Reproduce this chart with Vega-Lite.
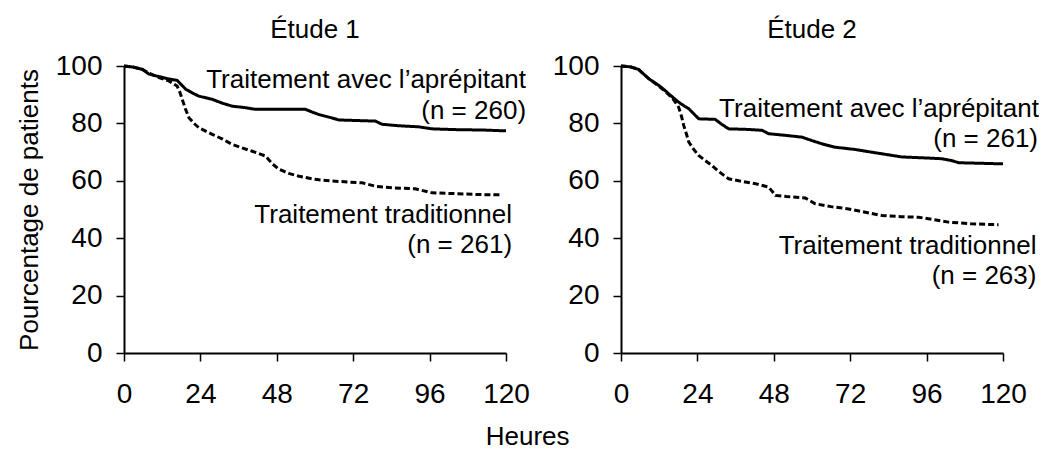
{
  "$schema": "https://vega.github.io/schema/vega-lite/v6.json",
  "background": "white",
  "padding": {"left": 16, "top": 17, "right": 0, "bottom": 0},
  "bounds": "flush",
  "spacing": 115,
  "config": {
    "font": "Liberation Sans",
    "view": {"stroke": null},
    "axis": {
      "grid": false,
      "labelFlush": false,
      "labelOverlap": false,
      "domainColor": "black",
      "domainWidth": 2,
      "tickColor": "black",
      "tickWidth": 1.5,
      "tickSize": 8,
      "labelFont": "Liberation Sans",
      "labelFontSize": 28,
      "labelColor": "black",
      "titleFont": "Liberation Sans",
      "titleFontSize": 26,
      "titleFontWeight": "normal",
      "titleColor": "black"
    },
    "title": {"font": "Liberation Sans", "fontSize": 26, "fontWeight": "normal", "color": "black"}
  },
  "title": {"text": "Heures", "orient": "bottom", "anchor": "middle", "offset": 16},
  "datasets": {
    "curves": [
      {"etude": "Étude 1", "traitement": "aprépitant", "heures": 0, "pct": 100},
      {"etude": "Étude 1", "traitement": "aprépitant", "heures": 3, "pct": 99.6},
      {"etude": "Étude 1", "traitement": "aprépitant", "heures": 5.8, "pct": 98.8},
      {"etude": "Étude 1", "traitement": "aprépitant", "heures": 7.8, "pct": 97.2},
      {"etude": "Étude 1", "traitement": "aprépitant", "heures": 11, "pct": 96.3},
      {"etude": "Étude 1", "traitement": "aprépitant", "heures": 14, "pct": 95.5},
      {"etude": "Étude 1", "traitement": "aprépitant", "heures": 16.7, "pct": 95},
      {"etude": "Étude 1", "traitement": "aprépitant", "heures": 18, "pct": 93.5},
      {"etude": "Étude 1", "traitement": "aprépitant", "heures": 19.4, "pct": 91.9},
      {"etude": "Étude 1", "traitement": "aprépitant", "heures": 21.5, "pct": 90.6},
      {"etude": "Étude 1", "traitement": "aprépitant", "heures": 23.5, "pct": 89.5},
      {"etude": "Étude 1", "traitement": "aprépitant", "heures": 27.7, "pct": 88.4},
      {"etude": "Étude 1", "traitement": "aprépitant", "heures": 31, "pct": 87},
      {"etude": "Étude 1", "traitement": "aprépitant", "heures": 34, "pct": 86},
      {"etude": "Étude 1", "traitement": "aprépitant", "heures": 38, "pct": 85.5},
      {"etude": "Étude 1", "traitement": "aprépitant", "heures": 41.3, "pct": 84.9},
      {"etude": "Étude 1", "traitement": "aprépitant", "heures": 57, "pct": 84.9},
      {"etude": "Étude 1", "traitement": "aprépitant", "heures": 59, "pct": 84},
      {"etude": "Étude 1", "traitement": "aprépitant", "heures": 61.2, "pct": 83.1},
      {"etude": "Étude 1", "traitement": "aprépitant", "heures": 65, "pct": 82},
      {"etude": "Étude 1", "traitement": "aprépitant", "heures": 67.5, "pct": 81.2},
      {"etude": "Étude 1", "traitement": "aprépitant", "heures": 79, "pct": 80.8},
      {"etude": "Étude 1", "traitement": "aprépitant", "heures": 81, "pct": 79.7},
      {"etude": "Étude 1", "traitement": "aprépitant", "heures": 86, "pct": 79.2},
      {"etude": "Étude 1", "traitement": "aprépitant", "heures": 92.6, "pct": 78.8},
      {"etude": "Étude 1", "traitement": "aprépitant", "heures": 96.8, "pct": 78.1},
      {"etude": "Étude 1", "traitement": "aprépitant", "heures": 105, "pct": 77.8},
      {"etude": "Étude 1", "traitement": "aprépitant", "heures": 112.5, "pct": 77.7},
      {"etude": "Étude 1", "traitement": "aprépitant", "heures": 120, "pct": 77.4},
      {"etude": "Étude 1", "traitement": "traditionnel", "heures": 0, "pct": 100},
      {"etude": "Étude 1", "traitement": "traditionnel", "heures": 3, "pct": 99.6},
      {"etude": "Étude 1", "traitement": "traditionnel", "heures": 5.8, "pct": 98.8},
      {"etude": "Étude 1", "traitement": "traditionnel", "heures": 7.8, "pct": 97.5},
      {"etude": "Étude 1", "traitement": "traditionnel", "heures": 11, "pct": 96},
      {"etude": "Étude 1", "traitement": "traditionnel", "heures": 14.1, "pct": 94.8},
      {"etude": "Étude 1", "traitement": "traditionnel", "heures": 16.7, "pct": 93},
      {"etude": "Étude 1", "traitement": "traditionnel", "heures": 17.5, "pct": 91},
      {"etude": "Étude 1", "traitement": "traditionnel", "heures": 18.3, "pct": 88.4},
      {"etude": "Étude 1", "traitement": "traditionnel", "heures": 19.3, "pct": 85},
      {"etude": "Étude 1", "traitement": "traditionnel", "heures": 20.4, "pct": 82},
      {"etude": "Étude 1", "traitement": "traditionnel", "heures": 22, "pct": 80},
      {"etude": "Étude 1", "traitement": "traditionnel", "heures": 23.5, "pct": 78.5},
      {"etude": "Étude 1", "traitement": "traditionnel", "heures": 27.7, "pct": 76.2},
      {"etude": "Étude 1", "traitement": "traditionnel", "heures": 31, "pct": 74.5},
      {"etude": "Étude 1", "traitement": "traditionnel", "heures": 34, "pct": 72.7},
      {"etude": "Étude 1", "traitement": "traditionnel", "heures": 37, "pct": 71.5},
      {"etude": "Étude 1", "traitement": "traditionnel", "heures": 40.3, "pct": 70.3},
      {"etude": "Étude 1", "traitement": "traditionnel", "heures": 44.5, "pct": 68.6},
      {"etude": "Étude 1", "traitement": "traditionnel", "heures": 46.5, "pct": 66},
      {"etude": "Étude 1", "traitement": "traditionnel", "heures": 48.7, "pct": 64},
      {"etude": "Étude 1", "traitement": "traditionnel", "heures": 52, "pct": 62.5},
      {"etude": "Étude 1", "traitement": "traditionnel", "heures": 55, "pct": 61.6},
      {"etude": "Étude 1", "traitement": "traditionnel", "heures": 60, "pct": 60.5},
      {"etude": "Étude 1", "traitement": "traditionnel", "heures": 65.4, "pct": 59.9},
      {"etude": "Étude 1", "traitement": "traditionnel", "heures": 74.8, "pct": 59.3},
      {"etude": "Étude 1", "traitement": "traditionnel", "heures": 79, "pct": 58.1},
      {"etude": "Étude 1", "traitement": "traditionnel", "heures": 85, "pct": 57.5},
      {"etude": "Étude 1", "traitement": "traditionnel", "heures": 91.5, "pct": 57.2},
      {"etude": "Étude 1", "traitement": "traditionnel", "heures": 96.8, "pct": 55.8},
      {"etude": "Étude 1", "traitement": "traditionnel", "heures": 105, "pct": 55.5},
      {"etude": "Étude 1", "traitement": "traditionnel", "heures": 112, "pct": 55.2},
      {"etude": "Étude 1", "traitement": "traditionnel", "heures": 118.7, "pct": 55.1},
      {"etude": "Étude 2", "traitement": "aprépitant", "heures": 0, "pct": 100},
      {"etude": "Étude 2", "traitement": "aprépitant", "heures": 3, "pct": 99.7},
      {"etude": "Étude 2", "traitement": "aprépitant", "heures": 5.5, "pct": 98.8},
      {"etude": "Étude 2", "traitement": "aprépitant", "heures": 7, "pct": 97.3},
      {"etude": "Étude 2", "traitement": "aprépitant", "heures": 8.7, "pct": 95.6},
      {"etude": "Étude 2", "traitement": "aprépitant", "heures": 10, "pct": 94.6},
      {"etude": "Étude 2", "traitement": "aprépitant", "heures": 11.8, "pct": 93.3},
      {"etude": "Étude 2", "traitement": "aprépitant", "heures": 13.5, "pct": 91.8},
      {"etude": "Étude 2", "traitement": "aprépitant", "heures": 15, "pct": 90.3},
      {"etude": "Étude 2", "traitement": "aprépitant", "heures": 16.5, "pct": 88.9},
      {"etude": "Étude 2", "traitement": "aprépitant", "heures": 18.1, "pct": 87.4},
      {"etude": "Étude 2", "traitement": "aprépitant", "heures": 19.7, "pct": 86.2},
      {"etude": "Étude 2", "traitement": "aprépitant", "heures": 21.3, "pct": 85.1},
      {"etude": "Étude 2", "traitement": "aprépitant", "heures": 23, "pct": 83.2},
      {"etude": "Étude 2", "traitement": "aprépitant", "heures": 24.4, "pct": 81.6},
      {"etude": "Étude 2", "traitement": "aprépitant", "heures": 29.6, "pct": 81.4},
      {"etude": "Étude 2", "traitement": "aprépitant", "heures": 31.5, "pct": 79.8},
      {"etude": "Étude 2", "traitement": "aprépitant", "heures": 33.8, "pct": 78.1},
      {"etude": "Étude 2", "traitement": "aprépitant", "heures": 40, "pct": 77.9},
      {"etude": "Étude 2", "traitement": "aprépitant", "heures": 44.3, "pct": 77.6},
      {"etude": "Étude 2", "traitement": "aprépitant", "heures": 46.4, "pct": 76.4},
      {"etude": "Étude 2", "traitement": "aprépitant", "heures": 52, "pct": 75.8},
      {"etude": "Étude 2", "traitement": "aprépitant", "heures": 56.9, "pct": 75.2},
      {"etude": "Étude 2", "traitement": "aprépitant", "heures": 60, "pct": 74},
      {"etude": "Étude 2", "traitement": "aprépitant", "heures": 63.1, "pct": 72.9},
      {"etude": "Étude 2", "traitement": "aprépitant", "heures": 67.3, "pct": 71.7},
      {"etude": "Étude 2", "traitement": "aprépitant", "heures": 73.6, "pct": 70.9},
      {"etude": "Étude 2", "traitement": "aprépitant", "heures": 78, "pct": 70.1},
      {"etude": "Étude 2", "traitement": "aprépitant", "heures": 82, "pct": 69.4},
      {"etude": "Étude 2", "traitement": "aprépitant", "heures": 88.3, "pct": 68.3},
      {"etude": "Étude 2", "traitement": "aprépitant", "heures": 95, "pct": 68},
      {"etude": "Étude 2", "traitement": "aprépitant", "heures": 100.8, "pct": 67.7},
      {"etude": "Étude 2", "traitement": "aprépitant", "heures": 104, "pct": 67},
      {"etude": "Étude 2", "traitement": "aprépitant", "heures": 106.1, "pct": 66.3},
      {"etude": "Étude 2", "traitement": "aprépitant", "heures": 113, "pct": 66.1},
      {"etude": "Étude 2", "traitement": "aprépitant", "heures": 120, "pct": 65.9},
      {"etude": "Étude 2", "traitement": "traditionnel", "heures": 0, "pct": 100},
      {"etude": "Étude 2", "traitement": "traditionnel", "heures": 3, "pct": 99.7},
      {"etude": "Étude 2", "traitement": "traditionnel", "heures": 5.5, "pct": 98.8},
      {"etude": "Étude 2", "traitement": "traditionnel", "heures": 7, "pct": 97.3},
      {"etude": "Étude 2", "traitement": "traditionnel", "heures": 8.7, "pct": 95.6},
      {"etude": "Étude 2", "traitement": "traditionnel", "heures": 10, "pct": 94.6},
      {"etude": "Étude 2", "traitement": "traditionnel", "heures": 11.8, "pct": 93},
      {"etude": "Étude 2", "traitement": "traditionnel", "heures": 13.5, "pct": 91.5},
      {"etude": "Étude 2", "traitement": "traditionnel", "heures": 15, "pct": 90},
      {"etude": "Étude 2", "traitement": "traditionnel", "heures": 16.5, "pct": 88.3},
      {"etude": "Étude 2", "traitement": "traditionnel", "heures": 18.1, "pct": 85.7},
      {"etude": "Étude 2", "traitement": "traditionnel", "heures": 19, "pct": 82.5},
      {"etude": "Étude 2", "traitement": "traditionnel", "heures": 19.7, "pct": 79.3},
      {"etude": "Étude 2", "traitement": "traditionnel", "heures": 20.5, "pct": 76.5},
      {"etude": "Étude 2", "traitement": "traditionnel", "heures": 21.3, "pct": 73.5},
      {"etude": "Étude 2", "traitement": "traditionnel", "heures": 22.8, "pct": 71},
      {"etude": "Étude 2", "traitement": "traditionnel", "heures": 24.4, "pct": 68.8},
      {"etude": "Étude 2", "traitement": "traditionnel", "heures": 26.5, "pct": 67},
      {"etude": "Étude 2", "traitement": "traditionnel", "heures": 28.6, "pct": 65.3},
      {"etude": "Étude 2", "traitement": "traditionnel", "heures": 31, "pct": 63},
      {"etude": "Étude 2", "traitement": "traditionnel", "heures": 33.8, "pct": 60.7},
      {"etude": "Étude 2", "traitement": "traditionnel", "heures": 37, "pct": 60},
      {"etude": "Étude 2", "traitement": "traditionnel", "heures": 42.2, "pct": 59},
      {"etude": "Étude 2", "traitement": "traditionnel", "heures": 46.4, "pct": 57.8},
      {"etude": "Étude 2", "traitement": "traditionnel", "heures": 47.5, "pct": 56.3},
      {"etude": "Étude 2", "traitement": "traditionnel", "heures": 48.5, "pct": 54.9},
      {"etude": "Étude 2", "traitement": "traditionnel", "heures": 52, "pct": 54.5},
      {"etude": "Étude 2", "traitement": "traditionnel", "heures": 57.9, "pct": 54},
      {"etude": "Étude 2", "traitement": "traditionnel", "heures": 61, "pct": 52},
      {"etude": "Étude 2", "traitement": "traditionnel", "heures": 66, "pct": 51},
      {"etude": "Étude 2", "traitement": "traditionnel", "heures": 71.5, "pct": 50.2},
      {"etude": "Étude 2", "traitement": "traditionnel", "heures": 76, "pct": 49.2},
      {"etude": "Étude 2", "traitement": "traditionnel", "heures": 82, "pct": 47.9},
      {"etude": "Étude 2", "traitement": "traditionnel", "heures": 88, "pct": 47.5},
      {"etude": "Étude 2", "traitement": "traditionnel", "heures": 93.5, "pct": 47.3},
      {"etude": "Étude 2", "traitement": "traditionnel", "heures": 98, "pct": 46.5},
      {"etude": "Étude 2", "traitement": "traditionnel", "heures": 102.9, "pct": 45.6},
      {"etude": "Étude 2", "traitement": "traditionnel", "heures": 110, "pct": 45},
      {"etude": "Étude 2", "traitement": "traditionnel", "heures": 118.6, "pct": 44.7}
    ],
    "labels": [
      {"etude": "Étude 1", "heures": 126.3, "pct": 95.2, "texte": "Traitement avec l’aprépitant"},
      {"etude": "Étude 1", "heures": 126.3, "pct": 84.2, "texte": "(n = 260)"},
      {"etude": "Étude 1", "heures": 121.9, "pct": 48, "texte": "Traitement traditionnel"},
      {"etude": "Étude 1", "heures": 121.9, "pct": 37.7, "texte": "(n = 261)"},
      {"etude": "Étude 2", "heures": 131.3, "pct": 85, "texte": "Traitement avec l’aprépitant"},
      {"etude": "Étude 2", "heures": 131, "pct": 74.6, "texte": "(n = 261)"},
      {"etude": "Étude 2", "heures": 130.5, "pct": 37.4, "texte": "Traitement traditionnel"},
      {"etude": "Étude 2", "heures": 130.5, "pct": 26.9, "texte": "(n = 263)"}
    ]
  },
  "hconcat": [
    {
      "width": 382,
      "height": 287,
      "title": {"text": "Étude 1", "offset": 9},
      "layer": [
        {
          "data": {"name": "curves"},
          "transform": [{"filter": "datum.etude === 'Étude 1'"}],
          "mark": {"type": "line", "color": "black", "strokeWidth": 3},
          "encoding": {
            "x": {"field": "heures", "type": "quantitative", "scale": {"domain": [0, 120]}, "axis": {"values": [0, 24, 48, 72, 96, 120], "title": null, "labelPadding": 19, "labelFontSize": 28, "labelFlush": false}},
            "y": {"field": "pct", "type": "quantitative", "scale": {"domain": [0, 100]}, "axis": {"values": [0, 20, 40, 60, 80, 100], "title": "Pourcentage de patients", "labelPadding": 14, "titlePadding": 13, "labelFontSize": 28, "labelFlush": false}},
            "strokeDash": {"field": "traitement", "type": "nominal", "scale": {"domain": ["aprépitant", "traditionnel"], "range": [[1, 0], [6, 3]]}, "legend": null}
          }
        },
        {
          "data": {"name": "labels"},
          "transform": [{"filter": "datum.etude === 'Étude 1'"}],
          "mark": {"type": "text", "align": "right", "baseline": "middle", "fontSize": 26, "color": "black"},
          "encoding": {
            "x": {"field": "heures", "type": "quantitative"},
            "y": {"field": "pct", "type": "quantitative"},
            "text": {"field": "texte"}
          }
        }
      ]
    },
    {
      "width": 382,
      "height": 287,
      "title": {"text": "Étude 2", "offset": 9},
      "layer": [
        {
          "data": {"name": "curves"},
          "transform": [{"filter": "datum.etude === 'Étude 2'"}],
          "mark": {"type": "line", "color": "black", "strokeWidth": 3},
          "encoding": {
            "x": {"field": "heures", "type": "quantitative", "scale": {"domain": [0, 120]}, "axis": {"values": [0, 24, 48, 72, 96, 120], "title": null, "labelPadding": 19, "labelFontSize": 28, "labelFlush": false}},
            "y": {"field": "pct", "type": "quantitative", "scale": {"domain": [0, 100]}, "axis": {"values": [0, 20, 40, 60, 80, 100], "title": null, "labelPadding": 14, "labelFontSize": 28, "labelFlush": false}},
            "strokeDash": {"field": "traitement", "type": "nominal", "scale": {"domain": ["aprépitant", "traditionnel"], "range": [[1, 0], [6, 3]]}, "legend": null}
          }
        },
        {
          "data": {"name": "labels"},
          "transform": [{"filter": "datum.etude === 'Étude 2'"}],
          "mark": {"type": "text", "align": "right", "baseline": "middle", "fontSize": 26, "color": "black"},
          "encoding": {
            "x": {"field": "heures", "type": "quantitative"},
            "y": {"field": "pct", "type": "quantitative"},
            "text": {"field": "texte"}
          }
        }
      ]
    }
  ]
}
